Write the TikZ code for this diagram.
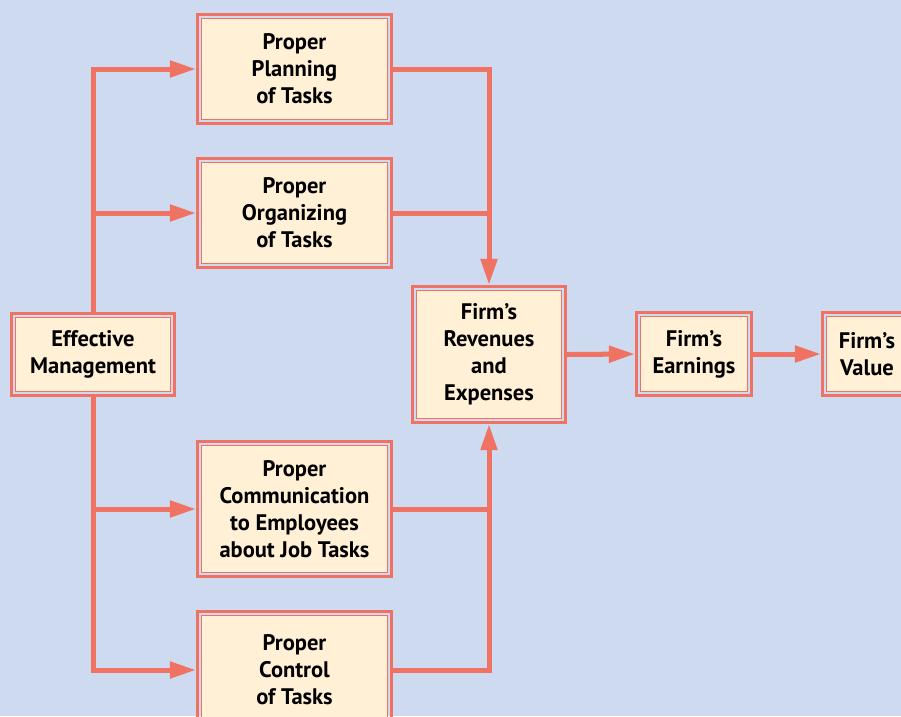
\documentclass[tikz,border=0pt]{standalone}
\usepackage{fontspec}
\setmainfont{PT Sans}
\usepackage{tikz}
\usetikzlibrary{positioning,arrows.meta,calc}

\definecolor{bgblue}{HTML}{CDDAF0}
\definecolor{salmon}{HTML}{F07262}
\definecolor{cream}{HTML}{FFF0D6}

\begin{document}
\begin{tikzpicture}[
  x=1pt,y=-1pt,
  >={Triangle[length=26pt,width=16pt]},
  conn/.style={draw=salmon,line width=5pt},
  box/.style={draw=salmon,line width=1.4pt,fill=cream,align=center,
              font=\fontsize{22.5}{27}\selectfont\bfseries,inner sep=0pt,outer sep=5.6pt,
              append after command={\pgfextra{\draw[salmon,line width=3pt]
                ($(\tikzlastnode.north west)+(1.5pt,-1.5pt)$) rectangle
                ($(\tikzlastnode.south east)+(-1.5pt,1.5pt)$);}}}
]
  % fond
  \fill[bgblue] (0,0) rectangle (901,716);
  \useasboundingbox (0,0) rectangle (901,716);

  % boites
  \node[box,minimum width=155pt,minimum height=74pt] (mgmt) at (93,354.5)
       {Effective\\ Management};
  \node[box,minimum width=186pt,minimum height=101pt] (plan) at (294.5,69)
       {Proper\\ Planning\\ of Tasks};
  \node[box,minimum width=186pt,minimum height=101pt] (org) at (294.5,213)
       {Proper\\ Organizing\\ of Tasks};
  \node[box,minimum width=186pt,minimum height=127pt] (comm) at (294.5,509)
       {Proper\\ Communication\\ to Employees\\ about Job Tasks};
  \node[box,minimum width=186pt,minimum height=109pt] (ctrl) at (294.5,670)
       {Proper\\ Control\\ of Tasks};
  \node[box,minimum width=145pt,minimum height=128pt] (rev) at (489,354.5)
       {Firm’s\\ Revenues\\ and\\ Expenses};
  \node[box,minimum width=107pt,minimum height=75pt] (earn) at (694,354)
       {Firm’s\\ Earnings};
  \node[box,minimum width=81pt,minimum height=75pt] (val) at (867,354)
       {Firm’s\\ Value};

  % fleches
  \draw[conn,->] (mgmt.north) |- (plan.west);
  \draw[conn,->] (mgmt.north |- org.west) -- (org.west);
  \draw[conn,->] (mgmt.south) |- (ctrl.west);
  \draw[conn,->] (mgmt.south |- comm.west) -- (comm.west);
  \draw[conn,->] (plan.east) -| (rev.north);
  \draw[conn] (org.east) -- (rev.north |- org.east);
  \draw[conn,->] (ctrl.east) -| (rev.south);
  \draw[conn] (comm.east) -- (rev.south |- comm.east);
  \draw[conn,->] (rev.east) -- (earn.west);
  \draw[conn,->] (earn.east) -- (val.west);
\end{tikzpicture}
\end{document}
